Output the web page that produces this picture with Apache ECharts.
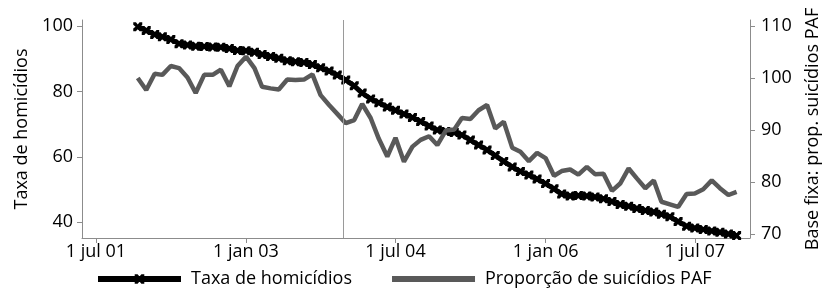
<!DOCTYPE html>
<html>
<head>
<meta charset="utf-8">
<script src="https://cdn.jsdelivr.net/npm/echarts@6/dist/echarts.min.js"></script>
<style>
html,body{margin:0;padding:0;background:#fff;}
#chart{width:830px;height:291px;}
</style>
</head>
<body>
<div id="chart"></div>
<script>
// Monthly categories (first day of month)
const months = [
'2001-12',
'2002-01','2002-02','2002-03','2002-04','2002-05','2002-06','2002-07','2002-08','2002-09','2002-10','2002-11','2002-12',
'2003-01','2003-02','2003-03','2003-04','2003-05','2003-06','2003-07','2003-08','2003-09','2003-10','2003-11','2003-12',
'2004-01','2004-02','2004-03','2004-04','2004-05','2004-06','2004-07','2004-08','2004-09','2004-10','2004-11','2004-12',
'2005-01','2005-02','2005-03','2005-04','2005-05','2005-06','2005-07','2005-08','2005-09','2005-10','2005-11','2005-12',
'2006-01','2006-02','2006-03','2006-04','2006-05','2006-06','2006-07','2006-08','2006-09','2006-10','2006-11','2006-12',
'2007-01','2007-02','2007-03','2007-04','2007-05','2007-06','2007-07','2007-08','2007-09','2007-10','2007-11','2007-12'
];

// Taxa de homicídios (left axis)
const homicidios = [
99.8,
98.6,97.4,96.7,95.9,94.6,94.2,93.8,93.7,93.6,93.5,93.1,92.5,
92.4,92.0,91.3,90.7,90.1,89.4,89.1,88.8,88.2,87.2,86.2,85.0,
83.5,81.7,79.5,77.7,76.5,75.2,74.2,73.1,72.0,70.8,69.4,68.2,
67.7,67.4,66.7,65.1,63.6,62.1,60.4,58.6,56.9,55.5,54.4,53.2,
51.8,50.2,48.6,48.0,48.2,48.0,47.7,47.2,46.3,45.4,44.9,44.2,
43.6,43.1,42.4,41.7,40.2,38.8,38.2,37.8,37.3,36.9,36.4,35.9
];

// Proporção de suicídios PAF (right axis, base fixa)
const suicidiosPAF = [
100.0,
97.7,100.8,100.6,102.3,101.9,100.1,97.1,100.6,100.6,101.6,98.4,102.3,
104.1,101.9,98.3,98.0,97.8,99.7,99.6,99.7,100.7,96.7,94.8,93.1,
91.3,91.9,95.0,92.3,88.3,84.9,88.5,83.9,86.8,88.1,88.8,87.1,
89.9,90.1,92.3,92.1,93.8,94.8,90.3,91.6,86.6,85.8,84.0,85.6,
84.6,81.2,82.1,82.4,81.4,82.9,81.5,81.6,78.3,79.7,82.6,80.7,
78.8,80.3,76.2,75.7,75.2,77.7,77.8,78.6,80.3,78.8,77.5,78.1
];

const xTickDates = ['2001-07-01','2003-01-01','2004-07-01','2006-01-01','2007-07-01'];
const leftTicks = [40,60,80,100];
const rightTicks = [70,80,90,100,110];
const eventDate = '2003-12-22';
const seriesNames = ['Taxa de homicídios','Proporção de suicídios PAF'];
const axisNames = ['Taxa de homicídios','Base fixa: prop. suicídios PAF'];

const monthNames = ['jan','fev','mar','abr','mai','jun','jul','ago','set','out','nov','dez'];
function ts(s){
  const p = s.split('-').map(Number);
  return Date.UTC(p[0], p[1]-1, p[2] || 1);
}
function fmt(v){
  const d = new Date(v);
  return d.getUTCDate() + ' ' + monthNames[d.getUTCMonth()] + ' ' + String(d.getUTCFullYear()).slice(2);
}

const FONT = 'Open Sans';
const FS = 18;
const axisGray = '#8c8c8c';
const xMarker = 'path://M0,0 L3,0 L5,2.5 L7,0 L10,0 L10,3 L7.5,5 L10,7 L10,10 L7,10 L5,7.5 L3,10 L0,10 L0,7 L2.5,5 L0,3 Z';

const chart = echarts.init(document.getElementById('chart'), null, {renderer:'canvas'});
chart.setOption({
  animation:false,
  textStyle:{fontFamily:FONT},
  grid:{left:82, right:70, top:20, bottom:53},
  legend:{
    left:90, top:265, itemWidth:83, itemHeight:12, itemGap:40,
    lineStyle:{width:6},
    textStyle:{fontSize:FS, color:'#000', fontFamily:FONT, padding:[0,0,0,5]},
    data:[
      {name:seriesNames[0]},
      {name:seriesNames[1], icon:'path://M0,0 H83 V6 H0 Z'}
    ]
  },
  xAxis:{
    type:'value',
    min: ts('2001-05-11'), max: ts('2008-01-19'),
    splitLine:{show:false},
    axisLine:{lineStyle:{color:axisGray, width:1}},
    axisTick:{show:true, length:5, lineStyle:{color:axisGray}, customValues: xTickDates.map(ts)},
    axisLabel:{fontSize:FS, color:'#000', margin:5, customValues: xTickDates.map(ts), formatter: fmt, hideOverlap:false}
  },
  yAxis:[{
    type:'value', min:35.17, max:101.83,
    name:axisNames[0], nameLocation:'middle', nameGap:51.5, nameRotate:90,
    nameTextStyle:{fontSize:FS, color:'#000'},
    splitLine:{show:false},
    axisLine:{show:true, lineStyle:{color:axisGray}},
    axisTick:{show:true, length:5, lineStyle:{color:axisGray}, customValues:leftTicks},
    axisLabel:{fontSize:FS, color:'#000', margin:9, customValues:leftTicks}
  },{
    type:'value', min:69.23, max:111.15, position:'right',
    name:axisNames[1], nameLocation:'middle', nameGap:54, nameRotate:90,
    nameTextStyle:{fontSize:FS, color:'#000'},
    splitLine:{show:false},
    axisLine:{show:true, lineStyle:{color:axisGray}},
    axisTick:{show:true, length:5, lineStyle:{color:axisGray}, customValues:rightTicks},
    axisLabel:{fontSize:FS, color:'#000', margin:11, customValues:rightTicks}
  }],
  series:[{
    name:seriesNames[0], type:'line', yAxisIndex:0, z:2,
    data: months.map((m,i)=>[ts(m), homicidios[i]]),
    lineStyle:{color:'#000', width:5},
    itemStyle:{color:'#000'},
    symbol:xMarker,
    symbolSize:9, showSymbol:true,
    markLine:{
      silent:true, symbol:['none','none'], label:{show:false},
      lineStyle:{color:'#9a9a9a', width:1, type:'solid'},
      data:[{xAxis: ts(eventDate)}]
    }
  },{
    name:seriesNames[1], type:'line', yAxisIndex:1, z:3,
    data: months.map((m,i)=>[ts(m), suicidiosPAF[i]]),
    lineStyle:{color:'#595959', width:4.5},
    itemStyle:{color:'#595959'},
    symbol:'none', showSymbol:false
  }]
});
</script>
</body>
</html>
